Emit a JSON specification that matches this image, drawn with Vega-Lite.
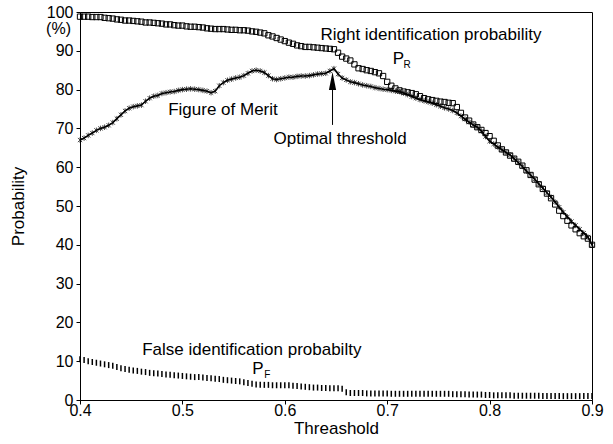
{
  "$schema": "https://vega.github.io/schema/vega-lite/v6.json",
  "width": 512,
  "height": 388,
  "autosize": {"type": "none"},
  "padding": {"left": 80, "top": 12, "right": 21, "bottom": 44},
  "background": "white",
  "config": {
    "view": {"stroke": "black", "strokeWidth": 1}
  },
  "resolve": {"axis": {"x": "independent", "y": "independent"}},
  "datasets": {
    "curves": [
      {"t":0.400,"pr":98.8,"fom":67.0,"pf":10.5},
      {"t":0.404,"pr":98.8,"fom":67.5,"pf":10.3},
      {"t":0.408,"pr":98.8,"fom":68.2,"pf":10.0},
      {"t":0.412,"pr":98.7,"fom":68.8,"pf":9.8},
      {"t":0.416,"pr":98.7,"fom":69.5,"pf":9.6},
      {"t":0.420,"pr":98.7,"fom":70.0,"pf":9.4},
      {"t":0.424,"pr":98.5,"fom":70.3,"pf":9.2},
      {"t":0.428,"pr":98.4,"fom":70.8,"pf":9.0},
      {"t":0.432,"pr":98.3,"fom":71.5,"pf":8.8},
      {"t":0.436,"pr":98.1,"fom":72.5,"pf":8.5},
      {"t":0.440,"pr":98.0,"fom":73.5,"pf":8.2},
      {"t":0.444,"pr":97.8,"fom":74.5,"pf":8.0},
      {"t":0.448,"pr":97.8,"fom":75.2,"pf":7.8},
      {"t":0.452,"pr":97.7,"fom":75.6,"pf":7.6},
      {"t":0.456,"pr":97.6,"fom":75.8,"pf":7.5},
      {"t":0.460,"pr":97.5,"fom":76.0,"pf":7.3},
      {"t":0.464,"pr":97.3,"fom":77.0,"pf":7.2},
      {"t":0.468,"pr":97.3,"fom":77.8,"pf":7.0},
      {"t":0.472,"pr":97.2,"fom":78.3,"pf":6.9},
      {"t":0.476,"pr":97.1,"fom":78.5,"pf":6.8},
      {"t":0.480,"pr":97.0,"fom":79.0,"pf":6.7},
      {"t":0.484,"pr":96.8,"fom":79.2,"pf":6.6},
      {"t":0.488,"pr":96.8,"fom":79.4,"pf":6.5},
      {"t":0.492,"pr":96.6,"fom":79.5,"pf":6.4},
      {"t":0.496,"pr":96.5,"fom":79.8,"pf":6.3},
      {"t":0.500,"pr":96.5,"fom":80.0,"pf":6.2},
      {"t":0.504,"pr":96.3,"fom":80.1,"pf":6.1},
      {"t":0.508,"pr":96.2,"fom":80.2,"pf":6.0},
      {"t":0.512,"pr":96.2,"fom":80.1,"pf":5.9},
      {"t":0.516,"pr":96.1,"fom":80.0,"pf":5.9},
      {"t":0.520,"pr":96.0,"fom":79.8,"pf":5.8},
      {"t":0.524,"pr":95.8,"fom":79.6,"pf":5.7},
      {"t":0.528,"pr":95.7,"fom":79.2,"pf":5.6},
      {"t":0.532,"pr":95.6,"fom":79.6,"pf":5.5},
      {"t":0.536,"pr":95.6,"fom":81.0,"pf":5.4},
      {"t":0.540,"pr":95.6,"fom":81.8,"pf":5.2},
      {"t":0.544,"pr":95.5,"fom":82.4,"pf":5.1},
      {"t":0.548,"pr":95.4,"fom":82.7,"pf":5.0},
      {"t":0.552,"pr":95.4,"fom":83.0,"pf":4.9},
      {"t":0.556,"pr":95.3,"fom":83.2,"pf":4.8},
      {"t":0.560,"pr":95.3,"fom":83.6,"pf":4.6},
      {"t":0.564,"pr":95.2,"fom":84.2,"pf":4.4},
      {"t":0.568,"pr":95.0,"fom":84.8,"pf":4.2},
      {"t":0.572,"pr":94.9,"fom":85.0,"pf":4.0},
      {"t":0.576,"pr":94.7,"fom":84.8,"pf":3.9},
      {"t":0.580,"pr":94.5,"fom":84.4,"pf":3.9},
      {"t":0.584,"pr":94.0,"fom":83.6,"pf":3.9},
      {"t":0.588,"pr":93.7,"fom":82.8,"pf":3.8},
      {"t":0.592,"pr":93.3,"fom":82.6,"pf":3.8},
      {"t":0.596,"pr":92.9,"fom":82.8,"pf":3.8},
      {"t":0.600,"pr":92.5,"fom":83.0,"pf":3.8},
      {"t":0.604,"pr":92.1,"fom":83.2,"pf":3.8},
      {"t":0.608,"pr":91.8,"fom":83.2,"pf":3.7},
      {"t":0.612,"pr":91.4,"fom":83.4,"pf":3.6},
      {"t":0.616,"pr":91.2,"fom":83.5,"pf":3.5},
      {"t":0.620,"pr":91.0,"fom":83.5,"pf":3.4},
      {"t":0.624,"pr":91.0,"fom":83.6,"pf":3.3},
      {"t":0.628,"pr":90.9,"fom":83.8,"pf":3.2},
      {"t":0.632,"pr":90.8,"fom":84.0,"pf":3.2},
      {"t":0.636,"pr":90.7,"fom":84.1,"pf":3.1},
      {"t":0.640,"pr":90.6,"fom":84.2,"pf":3.1},
      {"t":0.644,"pr":90.5,"fom":84.8,"pf":3.0},
      {"t":0.648,"pr":90.4,"fom":85.4,"pf":3.0},
      {"t":0.652,"pr":89.5,"fom":84.0,"pf":3.0},
      {"t":0.656,"pr":88.5,"fom":83.0,"pf":2.9},
      {"t":0.660,"pr":88.0,"fom":82.5,"pf":2.0},
      {"t":0.664,"pr":87.5,"fom":82.0,"pf":1.8},
      {"t":0.668,"pr":86.5,"fom":81.8,"pf":1.8},
      {"t":0.672,"pr":85.5,"fom":81.5,"pf":1.8},
      {"t":0.676,"pr":85.3,"fom":81.2,"pf":1.8},
      {"t":0.680,"pr":85.0,"fom":81.0,"pf":1.7},
      {"t":0.684,"pr":84.8,"fom":80.8,"pf":1.7},
      {"t":0.688,"pr":84.5,"fom":80.5,"pf":1.7},
      {"t":0.692,"pr":84.2,"fom":80.3,"pf":1.7},
      {"t":0.696,"pr":83.5,"fom":80.1,"pf":1.7},
      {"t":0.700,"pr":82.0,"fom":80.0,"pf":1.7},
      {"t":0.704,"pr":81.0,"fom":79.8,"pf":1.6},
      {"t":0.708,"pr":80.3,"fom":79.6,"pf":1.6},
      {"t":0.712,"pr":79.8,"fom":79.5,"pf":1.6},
      {"t":0.716,"pr":79.5,"fom":79.1,"pf":1.6},
      {"t":0.720,"pr":79.3,"fom":78.7,"pf":1.6},
      {"t":0.724,"pr":79.1,"fom":78.2,"pf":1.6},
      {"t":0.728,"pr":78.8,"fom":77.8,"pf":1.6},
      {"t":0.732,"pr":78.3,"fom":77.4,"pf":1.6},
      {"t":0.736,"pr":77.8,"fom":77.1,"pf":1.6},
      {"t":0.740,"pr":77.5,"fom":76.8,"pf":1.6},
      {"t":0.744,"pr":77.3,"fom":76.5,"pf":1.6},
      {"t":0.748,"pr":77.1,"fom":76.1,"pf":1.6},
      {"t":0.752,"pr":76.9,"fom":75.7,"pf":1.6},
      {"t":0.756,"pr":76.8,"fom":75.3,"pf":1.6},
      {"t":0.760,"pr":76.6,"fom":75.0,"pf":1.6},
      {"t":0.764,"pr":76.5,"fom":74.6,"pf":1.5},
      {"t":0.768,"pr":75.5,"fom":74.0,"pf":1.5},
      {"t":0.772,"pr":74.0,"fom":73.2,"pf":1.5},
      {"t":0.776,"pr":72.8,"fom":72.4,"pf":1.5},
      {"t":0.780,"pr":72.0,"fom":71.6,"pf":1.4},
      {"t":0.784,"pr":71.0,"fom":70.9,"pf":1.4},
      {"t":0.788,"pr":70.3,"fom":70.3,"pf":1.4},
      {"t":0.792,"pr":69.6,"fom":69.3,"pf":1.4},
      {"t":0.796,"pr":68.8,"fom":67.9,"pf":1.3},
      {"t":0.800,"pr":68.0,"fom":66.7,"pf":1.3},
      {"t":0.804,"pr":66.8,"fom":66.0,"pf":1.2},
      {"t":0.808,"pr":65.6,"fom":65.2,"pf":1.2},
      {"t":0.812,"pr":64.6,"fom":64.5,"pf":1.2},
      {"t":0.816,"pr":63.8,"fom":63.8,"pf":1.2},
      {"t":0.820,"pr":63.0,"fom":63.2,"pf":1.2},
      {"t":0.824,"pr":62.2,"fom":62.2,"pf":1.1},
      {"t":0.828,"pr":61.4,"fom":61.2,"pf":1.1},
      {"t":0.832,"pr":60.4,"fom":60.2,"pf":1.1},
      {"t":0.836,"pr":59.2,"fom":59.0,"pf":1.1},
      {"t":0.840,"pr":58.0,"fom":58.0,"pf":1.1},
      {"t":0.844,"pr":56.8,"fom":56.9,"pf":1.1},
      {"t":0.848,"pr":55.6,"fom":55.7,"pf":1.1},
      {"t":0.852,"pr":54.4,"fom":54.6,"pf":1.0},
      {"t":0.856,"pr":53.2,"fom":53.4,"pf":1.0},
      {"t":0.860,"pr":52.0,"fom":52.3,"pf":1.0},
      {"t":0.864,"pr":50.4,"fom":51.0,"pf":1.0},
      {"t":0.868,"pr":48.8,"fom":49.7,"pf":1.0},
      {"t":0.872,"pr":47.4,"fom":48.4,"pf":1.0},
      {"t":0.876,"pr":46.2,"fom":47.2,"pf":1.0},
      {"t":0.880,"pr":45.0,"fom":46.0,"pf":1.0},
      {"t":0.884,"pr":44.0,"fom":45.0,"pf":1.0},
      {"t":0.888,"pr":43.0,"fom":44.0,"pf":1.0},
      {"t":0.892,"pr":42.2,"fom":43.0,"pf":1.0},
      {"t":0.896,"pr":41.6,"fom":42.0,"pf":1.0},
      {"t":0.900,"pr":40.0,"fom":40.0,"pf":1.0}
    ],
    "labels": [
      {"t":0.6348,"v":94.1,"text":"Right identification probability","size":17},
      {"t":0.7053,"v":87.9,"text":"P","size":17},
      {"t":0.7160,"v":86.4,"text":"R","size":10},
      {"t":0.4861,"v":74.7,"text":"Figure of Merit","size":17},
      {"t":0.5890,"v":67.3,"text":"Optimal threshold","size":17},
      {"t":0.4607,"v":12.9,"text":"False identification probabilty","size":17},
      {"t":0.5683,"v":8.0,"text":"P","size":17},
      {"t":0.5800,"v":6.5,"text":"F","size":10}
    ],
    "arrow": [
      {"t":0.6466,"v":70.9,"v2":80.5}
    ],
    "head": [
      {"t":0.6466,"v":82.2}
    ],
    "pct": [
      {"t":0.4,"v":95.6,"text":"(%)"}
    ]
  },
  "layer": [
    {
      "data": {"name": "curves"},
      "mark": {"type": "line", "color": "black", "strokeWidth": 1.6},
      "encoding": {
        "x": {"field": "t", "type": "quantitative",
              "scale": {"domain": [0.4, 0.9], "nice": false, "zero": false},
              "axis": {"orient": "bottom", "title": "Threashold", "values": [0.4, 0.5, 0.6, 0.7, 0.8, 0.9], "labelExpr": "format(datum.value, '.1f')", "labelOverlap": false, "labelSeparation": -30, "labelFlush": false, "grid": false, "domainColor": "black", "tickColor": "black", "tickSize": 4, "labelColor": "black", "labelFont": "Liberation Sans", "labelFontSize": 16, "labelPadding": -2, "titleColor": "black", "titleFont": "Liberation Sans", "titleFontSize": 17, "titleFontWeight": "normal", "titlePadding": 2}},
        "y": {"field": "fom", "type": "quantitative",
              "scale": {"domain": [0, 100], "nice": false},
              "axis": {"orient": "left", "title": "Probability", "values": [0,10,20,30,40,50,60,70,80,90,100], "labelOverlap": false, "labelSeparation": -30, "labelFlush": false, "grid": false, "domainColor": "black", "tickColor": "black", "tickSize": 4, "labelColor": "black", "labelFont": "Liberation Sans", "labelFontSize": 16, "labelPadding": 3, "titleColor": "black", "titleFont": "Liberation Sans", "titleFontSize": 17, "titleFontWeight": "normal", "titlePadding": 19}}
      }
    },
    {
      "data": {"name": "curves"},
      "mark": {"type": "point", "shape": "M-1,-1L1,1M-1,1L1,-1M0,-1.3L0,1.3", "filled": false, "stroke": "black", "strokeWidth": 1, "size": 18},
      "encoding": {
        "x": {"field": "t", "type": "quantitative", "axis": null},
        "y": {"field": "fom", "type": "quantitative", "axis": null}
      }
    },
    {
      "data": {"name": "curves"},
      "mark": {"type": "point", "shape": "square", "filled": false, "stroke": "black", "strokeWidth": 1, "size": 28, "opacity": 1},
      "encoding": {
        "x": {"field": "t", "type": "quantitative", "axis": null},
        "y": {"field": "pr", "type": "quantitative", "axis": null}
      }
    },
    {
      "data": {"name": "curves"},
      "mark": {"type": "tick", "orient": "vertical", "color": "black", "size": 6, "thickness": 1.5, "opacity": 1},
      "encoding": {
        "x": {"field": "t", "type": "quantitative", "axis": null},
        "y": {"field": "pf", "type": "quantitative", "axis": null}
      }
    },
    {
      "data": {"name": "arrow"},
      "mark": {"type": "rule", "color": "black", "strokeWidth": 1},
      "encoding": {
        "x": {"field": "t", "type": "quantitative", "axis": null},
        "y": {"field": "v", "type": "quantitative", "axis": null},
        "y2": {"field": "v2"}
      }
    },
    {
      "data": {"name": "head"},
      "mark": {"type": "point", "shape": "M0,-1L0.4,1L-0.4,1Z", "filled": true, "color": "black", "size": 324, "opacity": 1},
      "encoding": {
        "x": {"field": "t", "type": "quantitative", "axis": null},
        "y": {"field": "v", "type": "quantitative", "axis": null}
      }
    },
    {
      "data": {"name": "labels"},
      "mark": {"type": "text", "align": "left", "baseline": "middle", "font": "Liberation Sans", "color": "black"},
      "encoding": {
        "x": {"field": "t", "type": "quantitative", "axis": null},
        "y": {"field": "v", "type": "quantitative", "axis": null},
        "text": {"field": "text"},
        "size": {"field": "size", "type": "quantitative", "scale": null}
      }
    },
    {
      "data": {"name": "pct"},
      "mark": {"type": "text", "align": "right", "baseline": "middle", "font": "Liberation Sans", "fontSize": 16, "color": "black", "dx": -9, "clip": false},
      "encoding": {
        "x": {"field": "t", "type": "quantitative", "axis": null},
        "y": {"field": "v", "type": "quantitative", "axis": null},
        "text": {"field": "text"}
      }
    }
  ]
}
